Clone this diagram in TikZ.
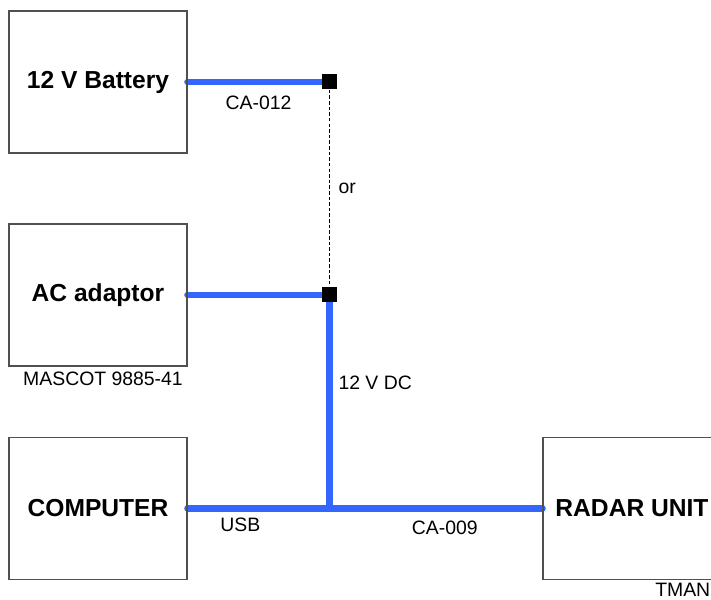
\documentclass[tikz,border=0pt]{standalone}
\usepackage{fontspec}
\setmainfont{Liberation Sans}
\usetikzlibrary{positioning,backgrounds}
\definecolor{cableblue}{RGB}{51,102,255}
\definecolor{boxgray}{RGB}{80,80,80}
\tikzset{
    every picture/.style={line join=miter},
    cable/.style={draw=cableblue,line width=4.7pt,line cap=round}
}

\begin{document}
\begin{tikzpicture}[unit/.style={rectangle,draw=boxgray,line width=0.75pt,
                        minimum width=4.45cm,minimum height=3.55cm,
                        font=\fontsize{17.5}{21}\selectfont\bfseries},
                    joint/.style={rectangle,fill=black,minimum size=0.375cm,inner sep=0pt},
                    lbl/.style={inner sep=0pt,font=\fontsize{13.8}{16}\selectfont}]

\useasboundingbox (0,0) rectangle (17.775,14.975);

% Units
\node[unit] (battery) at (2.45cm,12.925cm) {12 V Battery};
\node[unit] (adaptor) at (2.45cm,7.60cm) {AC adaptor};
\node[unit] (computer) at (2.45cm,2.27cm) {COMPUTER};
\node[unit] (radar) at (15.80cm,2.27cm) {RADAR UNIT};

% Joints
\node[joint] (top) at (8.24cm,12.925cm) {};
\node[joint] (mid) at (8.24cm,7.60cm) {};
\coordinate (tee) at (8.24cm,2.27cm);

% Part numbers
\node[lbl] (mascot) at (2.575cm,5.50cm) {MASCOT 9885-41};
\node[lbl,anchor=west] (tman) at (16.375cm,0.225cm) {TMAN};

% Cables
\begin{scope}[on background layer]
\path[cable] (battery.east) -- node[lbl,yshift=-0.525cm] {CA-012} (top.center);
\path[cable] (adaptor.east) -- (mid.center);
\path[cable] (mid.center) -- node[lbl,pos=0.413,anchor=west,xshift=0.14cm] {12 V DC} (tee);
\path[cable] (computer.east) -- node[lbl,pos=0.372,yshift=-0.425cm] {USB} (tee)
             -- node[lbl,pos=0.541,yshift=-0.5cm] {CA-009} (radar.west);
\end{scope}
\draw[line width=0.5pt,dash pattern=on 2.5pt off 1.5pt] (top) -- node[lbl,xshift=0.44cm] {or} (mid);

\end{tikzpicture}
\end{document}
